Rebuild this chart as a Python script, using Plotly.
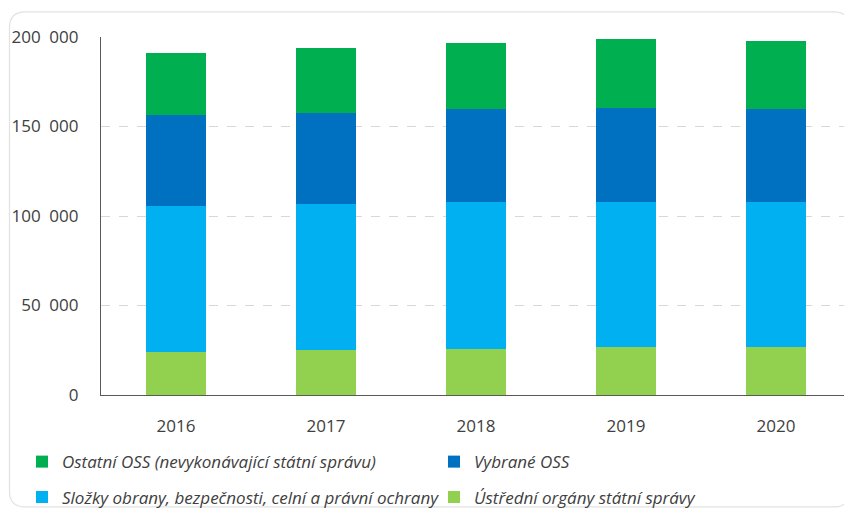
import plotly.graph_objects as go

# Years on the x axis
years = ["2016", "2017", "2018", "2019", "2020"]

# Number of employees per group, bottom to top of the stack
ustredni = [24200, 25200, 25700, 26600, 26600]
slozky = [81400, 81300, 82300, 81400, 81400]
vybrane = [50900, 50900, 51800, 52300, 51800]
ostatni = [34800, 36700, 36700, 38400, 38200]

y_ticks = [0, 50000, 100000, 150000, 200000]
y_tick_labels = ["0", "50\u2002000", "100\u2002000", "150\u2002000", "200\u2002000"]

# the page body has an 8px margin, so the figure is drawn 8px smaller
# and every pixel position below is given in page coordinates
OFF = 8
W, H = 852 - OFF, 516 - OFF
L, R, T, B = 101 - OFF, 1, 37 - OFF, 116
PW, PH = W - L - R, H - T - B


def px(x):
    return (x - OFF - L) / PW


def py(y):
    return (H - B - (y - OFF)) / PH


series = [
    ("Ústřední orgány státní správy", ustredni, "#92D050", "legend2"),
    ("Složky obrany, bezpečnosti, celní a právní ochrany", slozky, "#00B0F0", "legend2"),
    ("Vybrané OSS", vybrane, "#0070C0", "legend"),
    ("Ostatní OSS (nevykonávající státní správu)", ostatni, "#00B050", "legend"),
]

fig = go.Figure()
for name, vals, color, leg in series:
    fig.add_trace(go.Bar(
        x=years, y=vals, name=name,
        marker=dict(color=color, line=dict(width=0)),
        legend=leg,
    ))

# rounded frame around the whole chart (screenshot card)
x0, x1, y0, y1, r = 9.5, 849.5, 11.5, 513.5, 16
frame = (
    f"M {px(x0 + r)},{py(y0)} L {px(x1 - r)},{py(y0)} "
    f"Q {px(x1)},{py(y0)} {px(x1)},{py(y0 + r)} "
    f"L {px(x1)},{py(y1 - r)} Q {px(x1)},{py(y1)} {px(x1 - r)},{py(y1)} "
    f"L {px(x0 + r)},{py(y1)} Q {px(x0)},{py(y1)} {px(x0)},{py(y1 - r)} "
    f"L {px(x0)},{py(y0 + r)} Q {px(x0)},{py(y0)} {px(x0 + r)},{py(y0)} Z"
)

legend_font = dict(family="Open Sans", size=17, color="#404040", style="italic")

fig.update_layout(
    width=W, height=H,
    margin=dict(l=L, r=R, t=T, b=B),
    barmode="stack",
    bargap=0.605,
    paper_bgcolor="white",
    plot_bgcolor="white",
    font=dict(family="Open Sans", size=17, color="#404040"),
    shapes=[dict(type="path", path=frame, xref="paper", yref="paper",
                 line=dict(color="#e2e2e2", width=1.2), layer="below")],
    legend=dict(orientation="h", x=px(22), xanchor="left", y=py(468), yanchor="middle",
                traceorder="reversed", entrywidth=367, font=legend_font,
                bgcolor="rgba(0,0,0,0)"),
    legend2=dict(orientation="h", x=px(22), xanchor="left", y=py(504), yanchor="middle",
                 traceorder="reversed", entrywidth=367, font=legend_font,
                 bgcolor="rgba(0,0,0,0)"),
    xaxis=dict(
        showline=True, linecolor="#595959", linewidth=1.3,
        ticks="", ticklabelstandoff=15, showgrid=False,
        tickfont=dict(size=17, color="#404040"),
    ),
    yaxis=dict(
        range=[0, 200000], tickvals=y_ticks, ticktext=y_tick_labels,
        showline=True, linecolor="#595959", linewidth=1.3,
        showgrid=True, gridcolor="#ddd6d6", griddash="dash", gridwidth=1,
        zeroline=False, ticks="", ticklabelstandoff=18,
        tickfont=dict(size=17, color="#404040"),
    ),
)

fig.write_html("out.html")
